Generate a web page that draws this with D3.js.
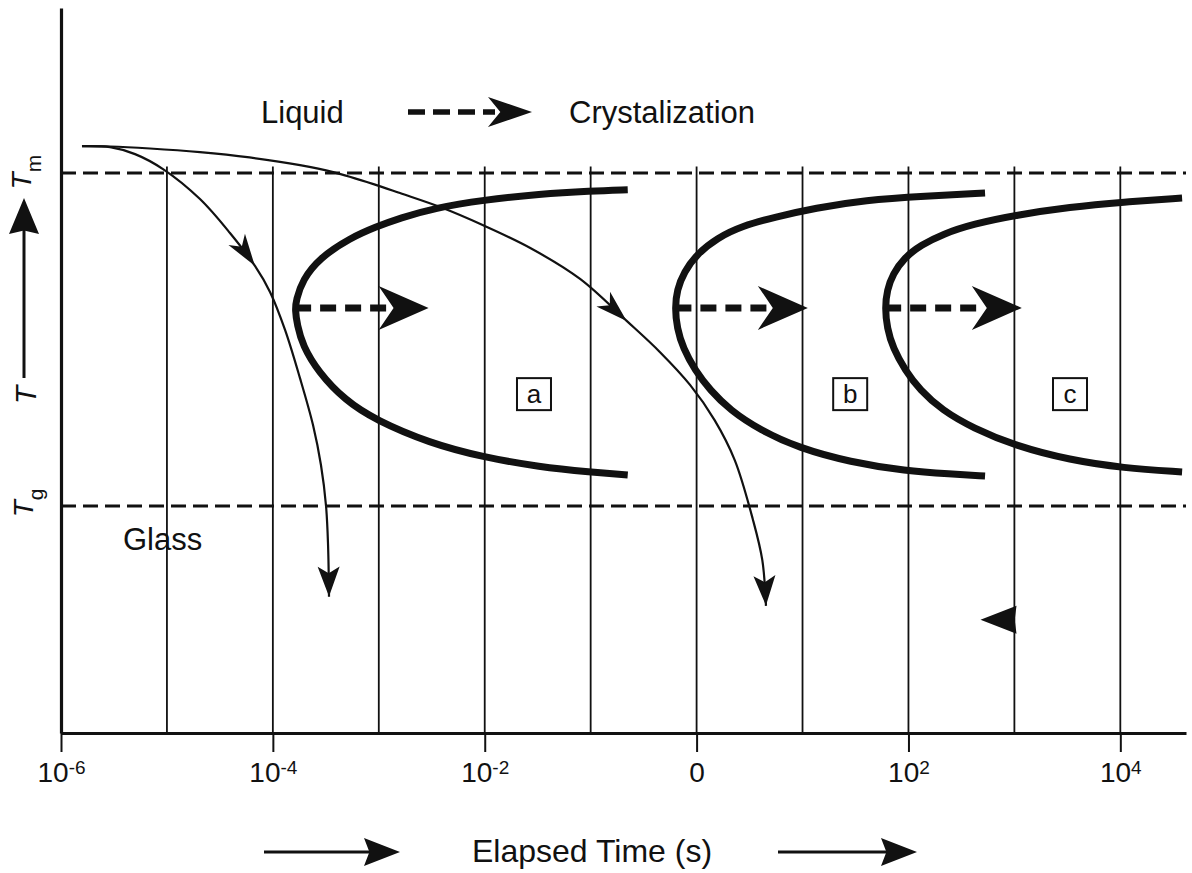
<!DOCTYPE html>
<html>
<head>
<meta charset="utf-8">
<script src="https://cdn.jsdelivr.net/npm/d3@7"></script>
<style>
  body { margin: 0; background: #fff; }
  svg { display: block; }
  text { font-family: "Liberation Sans", Arial, Helvetica, sans-serif; fill: #111; }
</style>
</head>
<body>
<svg id="chart" width="1192" height="873"></svg>
<script>
// Elapsed time is stored as log10(seconds); temperature as (T - Tg) / (Tm - Tg),
// so Tm sits at 1 and Tg at 0.
const timeRangeExp = [-6, 4.62];
const tempRange = [-0.682, 1.496];

const tickExp  = [-6, -4, -2, 0, 2, 4];
const tickBase = ["10", "10", "10", "0", "10", "10"];
const tickSup  = ["-6", "-4", "-2", "", "2", "4"];
const gridExp  = [-5, -4, -3, -2, -1, 0, 1, 2, 3, 4];

const meltTemp = 1;   // Tm
const glassTemp = 0;  // Tg

// Crystallization (TTT) curves: [log10 t, T]
const curveA = [[-0.65,0.950],[-1.00,0.946],[-1.48,0.937],[-2.02,0.919],[-2.47,0.895],[-2.80,0.865],
  [-3.03,0.838],[-3.27,0.805],[-3.56,0.745],[-3.72,0.679],[-3.78,0.619],[-3.79,0.589],[-3.77,0.544],
  [-3.72,0.483],[-3.57,0.402],[-3.32,0.318],[-3.03,0.258],[-2.52,0.189],[-2.02,0.147],[-1.48,0.117],
  [-1.00,0.102],[-0.65,0.093]];
const curveB = [[2.723,0.940],[2.156,0.931],[1.590,0.919],[1.118,0.895],[0.740,0.868],[0.429,0.841],
  [0.193,0.805],[0.004,0.757],[-0.119,0.703],[-0.185,0.649],[-0.204,0.595],[-0.185,0.535],
  [-0.128,0.474],[-0.015,0.408],[0.127,0.348],[0.316,0.288],[0.599,0.228],[0.967,0.174],
  [1.448,0.132],[1.977,0.105],[2.392,0.096],[2.723,0.090]];
const curveC = [[4.583,0.925],[4.026,0.913],[3.525,0.898],[3.015,0.874],[2.609,0.847],[2.326,0.817],
  [2.119,0.784],[1.958,0.745],[1.854,0.697],[1.798,0.649],[1.779,0.595],[1.798,0.535],
  [1.854,0.474],[1.968,0.408],[2.109,0.348],[2.317,0.288],[2.609,0.234],[3.015,0.180],
  [3.525,0.138],[4.026,0.114],[4.583,0.102]];

// Crystallization arrows: [from log10 t, to log10 t, T]
const crystalArrows = [[-3.79, -2.53, 0.595], [-0.20, 1.05, 0.595], [1.78, 3.07, 0.595]];

// Cooling paths from the melt
const fastCooling = [[-5.802,1.081],[-5.537,1.078],[-5.301,1.057],[-5.037,1.012],[-4.688,0.922],
  [-4.405,0.820],[-4.169,0.721],[-4.027,0.643],[-3.885,0.529],[-3.744,0.384],[-3.621,0.243],
  [-3.546,0.123],[-3.498,0.000],[-3.479,-0.117],[-3.470,-0.273]];
const slowCooling = [[-5.802,1.081],[-5.537,1.080],[-5.16,1.074],[-4.688,1.063],[-4.22,1.047],
  [-3.744,1.024],[-3.43,1.003],[-3.05,0.967],[-2.80,0.940],[-2.42,0.898],[-2.02,0.844],
  [-1.57,0.775],[-1.10,0.682],[-0.66,0.556],[-0.345,0.462],[-0.06,0.363],[0.17,0.258],
  [0.36,0.138],[0.53,-0.039],[0.62,-0.162],[0.655,-0.300]];
const fastMidArrow = [-4.17, 0.721];
const slowMidArrow = [-0.66, 0.556];
const strayArrow = [2.68, -0.342];

const regionNames = ["a", "b", "c"];
const regionAt = [[-1.535, 0.336], [1.45, 0.336], [3.525, 0.336]];

const ink = "#111";
const svg = d3.select("#chart");

const x = d3.scaleLog().domain(timeRangeExp.map(e => 10 ** e)).range([61, 1186]);
const y = d3.scaleLinear().domain(tempRange).range([733, 8]);
const px = e => x(10 ** e);

const line = d3.line()
  .x(d => px(d[0]))
  .y(d => y(d[1]))
  .curve(d3.curveCatmullRom.alpha(0.5));
const smoothLine = d3.line()
  .x(d => px(d[0]))
  .y(d => y(d[1]))
  .curve(d3.curveBasis);

// arrowhead with a notched back, tip at (hx, hy)
function head(g, hx, hy, angle, L, W, notch) {
  g.append("path")
    .attr("d", `M0,0L${-L},${-W / 2}L${-L * notch},0L${-L},${W / 2}Z`)
    .attr("transform", `translate(${hx},${hy}) rotate(${angle})`)
    .attr("fill", ink);
}

function headAlong(g, node, target, L, W, notch) {
  const total = node.getTotalLength();
  let best = total, bestD = Infinity;
  for (let s = 0; s <= total; s += 0.5) {
    const p = node.getPointAtLength(s);
    const d = (p.x - target[0]) ** 2 + (p.y - target[1]) ** 2;
    if (d < bestD) { bestD = d; best = s; }
  }
  const p = node.getPointAtLength(best);
  const q = node.getPointAtLength(Math.max(0, best - 6));
  const ang = Math.atan2(p.y - q.y, p.x - q.x) * 180 / Math.PI;
  head(g, p.x, p.y, ang, L, W, notch);
}

// grid: vertical decade lines between Tm and the time axis
svg.append("g").selectAll("line").data(gridExp).join("line")
  .attr("x1", d => px(d)).attr("x2", d => px(d))
  .attr("y1", y(1.02)).attr("y2", y(tempRange[0]))
  .attr("stroke", ink).attr("stroke-width", 1.8);

// Tm and Tg reference lines
svg.append("g").selectAll("line").data([meltTemp, glassTemp]).join("line")
  .attr("x1", x.range()[0]).attr("x2", x.range()[1])
  .attr("y1", d => y(d)).attr("y2", d => y(d))
  .attr("stroke", ink).attr("stroke-width", 3)
  .attr("stroke-dasharray", "15,7");

// axes
const xAxis = svg.append("g")
  .attr("transform", `translate(0,${y.range()[0]})`)
  .call(d3.axisBottom(x)
    .tickValues(tickExp.map(e => 10 ** e))
    .tickSize(19).tickSizeOuter(0).tickPadding(0)
    .tickFormat(() => ""));
xAxis.select(".domain").attr("stroke", ink).attr("stroke-width", 3.2);
xAxis.selectAll(".tick line").attr("stroke", ink).attr("stroke-width", 2);
xAxis.selectAll(".tick text").each(function (d, i) {
  const t = d3.select(this)
    .attr("y", 49).attr("dy", null)
    .attr("font-size", 28).attr("fill", ink)
    .attr("text-anchor", "middle");
  t.text(null);
  t.append("tspan").text(tickBase[i]);
  if (tickSup[i]) t.append("tspan").attr("dy", -8).attr("font-size", 19).text(tickSup[i]);
});

const yAxis = svg.append("g")
  .attr("transform", `translate(${x.range()[0]},0)`)
  .call(d3.axisLeft(y).tickValues([]).tickSizeOuter(0));
yAxis.select(".domain").attr("stroke", ink).attr("stroke-width", 3.2);

// TTT curves
svg.append("g").selectAll("path").data([curveA, curveB, curveC]).join("path")
  .attr("d", smoothLine)
  .attr("fill", "none").attr("stroke", ink)
  .attr("stroke-width", 7).attr("stroke-linecap", "butt");

// crystallization arrows from each nose
const cg = svg.append("g");
crystalArrows.forEach(([e0, e1, T]) => {
  const x0 = px(e0), x1 = px(e1), yy = y(T);
  cg.append("line")
    .attr("x1", x0).attr("x2", x1 - 40).attr("y1", yy).attr("y2", yy)
    .attr("stroke", ink).attr("stroke-width", 7).attr("stroke-dasharray", "16,9");
  head(cg, x1, yy, 0, 50, 44, 0.7);
});

// cooling paths
const coolG = svg.append("g");
[[fastCooling, fastMidArrow], [slowCooling, slowMidArrow]].forEach(([pts, mid]) => {
  const p = coolG.append("path").attr("d", line(pts))
    .attr("fill", "none").attr("stroke", ink).attr("stroke-width", 2.2);
  const node = p.node();
  headAlong(coolG, node, [px(mid[0]), y(mid[1])], 32, 20, 0.72);
  const last = pts[pts.length - 1];
  headAlong(coolG, node, [px(last[0]), y(last[1])], 30, 22, 0.78);
});
head(coolG, px(strayArrow[0]), y(strayArrow[1]), 180, 36, 28, 0.95);

// region labels in boxes
const rg = svg.append("g");
regionNames.forEach((n, i) => {
  const cx = px(regionAt[i][0]), cy = y(regionAt[i][1]);
  rg.append("rect").attr("x", cx - 17).attr("y", cy - 16).attr("width", 34).attr("height", 32)
    .attr("fill", "#fff").attr("stroke", ink).attr("stroke-width", 2);
  rg.append("text").attr("x", cx).attr("y", cy + 9).attr("text-anchor", "middle")
    .attr("font-size", 26).text(n);
});

// annotations
svg.append("text").attr("x", 261).attr("y", 123).attr("font-size", 31).text("Liquid");
svg.append("text").attr("x", 569).attr("y", 123).attr("font-size", 31).text("Crystalization");
svg.append("line").attr("x1", 408).attr("x2", 495).attr("y1", 112).attr("y2", 112)
  .attr("stroke", ink).attr("stroke-width", 5.5).attr("stroke-dasharray", "17,8");
head(svg, 532, 112, 0, 44, 30, 0.72);
svg.append("text").attr("x", 123).attr("y", 550).attr("font-size", 31).text("Glass");

// time axis title with arrows
svg.append("text").attr("x", 592).attr("y", 862).attr("text-anchor", "middle")
  .attr("font-size", 32).text("Elapsed Time (s)");
[[264, 400], [778, 917]].forEach(([a, b]) => {
  svg.append("line").attr("x1", a).attr("x2", b - 30).attr("y1", 852).attr("y2", 852)
    .attr("stroke", ink).attr("stroke-width", 3);
  head(svg, b, 852, 0, 36, 28, 0.85);
});

// temperature axis labels
function rotLabel(cy, bx, main, sub, size) {
  const t = svg.append("text")
    .attr("transform", `translate(${bx},${cy}) rotate(-90)`)
    .attr("text-anchor", "middle").attr("font-size", size);
  t.append("tspan").attr("font-style", "italic").text(main);
  if (sub) t.append("tspan").attr("dy", 10).attr("font-size", 21).text(sub);
}
rotLabel(y(meltTemp) - 1, 31, "T", "m", 28);
rotLabel(y(glassTemp) - 3, 33, "T", "g", 28);
rotLabel(395, 36, "T", null, 30);
svg.append("line").attr("x1", 24).attr("x2", 24).attr("y1", 378).attr("y2", 228)
  .attr("stroke", ink).attr("stroke-width", 3);
head(svg, 24, 198, -90, 36, 30, 0.9);
</script>
</body>
</html>
